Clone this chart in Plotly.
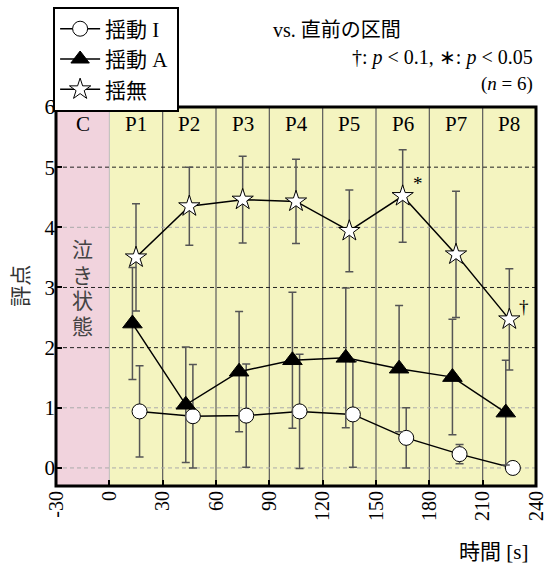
import plotly.graph_objects as go

# Periods and time axis
periods = ["P1", "P2", "P3", "P4", "P5", "P6", "P7", "P8"]
period_start = [0, 30, 60, 90, 120, 150, 180, 210]
x_ticks = [-30, 0, 30, 60, 90, 120, 150, 180, 210, 240]
x_tick_text = ["-30", "0", "30", "60", "90", "120", "150", "180", "210", "240"]
y_ticks = [0, 1, 2, 3, 4, 5, 6]

# Scores (mean and SD) per period
swing_i_mean = [0.94, 0.86, 0.87, 0.94, 0.89, 0.50, 0.23, 0.00]
swing_i_sd = [0.76, 0.86, 0.86, 0.95, 0.88, 0.50, 0.16, 0.00]
swing_a_mean = [2.40, 1.05, 1.60, 1.79, 1.83, 1.65, 1.51, 0.92]
swing_a_sd = [0.93, 0.96, 1.00, 1.13, 1.16, 1.05, 0.96, 0.87]
no_swing_mean = [3.50, 4.35, 4.46, 4.43, 3.94, 4.52, 3.55, 2.47]
no_swing_sd = [0.89, 0.65, 0.72, 0.70, 0.68, 0.77, 1.05, 0.84]

# significance marks on the no-swing series (period index, mark)
sig_marks = [(5, "*"), (7, "†")]

SERIF = "Liberation Serif, Noto Sans CJK JP"
PINK = "#F1D3DD"
YELLOW = "#F4F4C0"
ERR = "#555555"

def xs(offset):
    return [s + offset for s in period_start]

x_i = xs(17)
x_a = xs(13)
x_n = xs(15)

fig = go.Figure()

def add_series(name, x, mean, sd, symbol, fill, size):
    fig.add_trace(go.Scatter(
        x=x, y=mean, name=name, mode="lines+markers",
        line=dict(color="black", width=1.5),
        marker=dict(symbol=symbol, size=size, color=fill,
                    line=dict(color="black", width=1)),
        error_y=dict(type="data", array=sd, visible=True,
                     color=ERR, thickness=1.5, width=4),
    ))

add_series("揺動 I ", x_i, swing_i_mean, swing_i_sd, "circle", "white", 15)
add_series("揺動 A ", x_a, swing_a_mean, swing_a_sd, "triangle-up", "black", 17)
add_series("揺無", x_n, no_swing_mean, no_swing_sd, "star", "white", 16)

shapes = [
    dict(type="rect", xref="x", yref="paper", x0=-30, x1=0, y0=0, y1=1,
         fillcolor=PINK, line_width=0, layer="below"),
    dict(type="rect", xref="x", yref="paper", x0=0, x1=240, y0=0, y1=1,
         fillcolor=YELLOW, line_width=0, layer="below"),
    dict(type="line", xref="x", yref="paper", x0=0, x1=0, y0=0, y1=1,
         line=dict(color="#BBBBBB", width=1), layer="below"),
]
for s in period_start[1:]:
    shapes.append(dict(type="line", xref="x", yref="paper", x0=s, x1=s,
                       y0=0, y1=1, line=dict(color="#5A5A5A", width=1.2),
                       layer="below"))
dark_levels = {2, 3, 5}
for v in y_ticks[:-1]:
    shapes.append(dict(type="line", xref="paper", yref="y", x0=0, x1=1,
                       y0=v, y1=v,
                       line=dict(color="#222222" if v in dark_levels else "#AAAAAA",
                                 width=1, dash="4px,3px"),
                       layer="below"))
shapes.append(dict(type="rect", xref="paper", yref="paper", x0=0, x1=1,
                   y0=0, y1=1, line=dict(color="black", width=3),
                   layer="above"))

annotations = []
# period labels
annotations.append(dict(x=-15, y=5.72, xref="x", yref="y", text="C",
                        showarrow=False, font=dict(family=SERIF, size=21, color="black")))
for p, s in zip(periods, period_start):
    annotations.append(dict(x=s + 15, y=5.72, xref="x", yref="y", text=p,
                            showarrow=False,
                            font=dict(family=SERIF, size=21, color="black")))
# vertical label in the crying segment
for i, ch in enumerate("泣き状態"):
    annotations.append(dict(x=-15, y=2.98, xref="x", yref="y", text=ch,
                            showarrow=False, yshift=(1.5 - i) * 25.5,
                            font=dict(family=SERIF, size=21, color="#444444")))
# significance marks
for idx, mark in sig_marks:
    annotations.append(dict(x=x_n[idx], y=no_swing_mean[idx], xref="x", yref="y",
                            text=mark, showarrow=False, xshift=15, yshift=13,
                            font=dict(family=SERIF, size=19, color="black")))
# header notes
annotations += [
    dict(x=0.585, y=1.203, xref="paper", yref="paper", text="vs. 直前の区間",
         xanchor="center", yanchor="middle",
         showarrow=False, font=dict(family=SERIF, size=20, color="black")),
    dict(x=0.997, y=1.130, xref="paper", yref="paper", xanchor="right",
         yanchor="middle",
         text="†: <i>p</i> < 0.1, ∗: <i>p</i> < 0.05", showarrow=False,
         font=dict(family=SERIF, size=20, color="black")),
    dict(x=0.997, y=1.060, xref="paper", yref="paper", xanchor="right",
         yanchor="middle",
         text="(<i>n</i> = 6)", showarrow=False,
         font=dict(family=SERIF, size=19, color="black")),
    dict(x=-0.073, y=3.03, xref="paper", yref="y", text="評点", textangle=-90,
         xanchor="center", yanchor="middle",
         showarrow=False, font=dict(family=SERIF, size=21, color="#333333")),
    dict(x=0.988, y=-0.174, xref="paper", yref="paper", xanchor="right",
         yanchor="middle",
         text="時間 [s]", showarrow=False,
         font=dict(family=SERIF, size=21, color="black")),
]

fig.update_layout(
    width=549, height=568,
    margin=dict(l=56, r=2, t=107, b=82),
    paper_bgcolor="white", plot_bgcolor="white",
    shapes=shapes, annotations=annotations,
    showlegend=True,
    legend=dict(x=-0.006, y=1.265, xanchor="left", yanchor="top",
                bordercolor="black", borderwidth=2, bgcolor="white",
                font=dict(family=SERIF, size=21, color="black"),
                tracegroupgap=0, itemwidth=40),
    xaxis=dict(range=[-30, 240], tickvals=x_ticks, ticktext=x_tick_text,
               ticks="inside", ticklabeloverflow="allow",
               ticklen=6, tickwidth=2, tickcolor="black", showgrid=False,
               zeroline=False, showline=False, tickangle=-90,
               tickfont=dict(family=SERIF, size=20, color="black")),
    yaxis=dict(range=[-0.3, 6], tickvals=y_ticks, ticks="inside",
               ticklen=6, tickwidth=2, tickcolor="black", showgrid=False,
               zeroline=False, showline=False,
               tickfont=dict(family=SERIF, size=21, color="black")),
)

fig.write_html("out.html")
